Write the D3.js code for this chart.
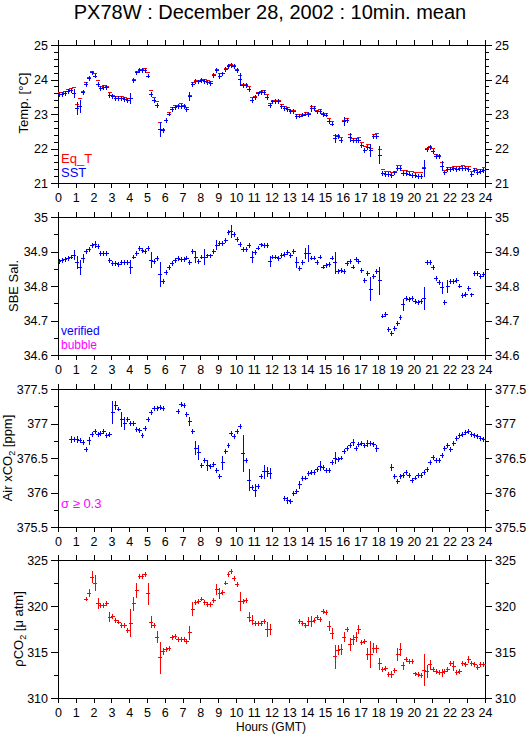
<!DOCTYPE html>
<html>
<head>
<meta charset="utf-8">
<script src="https://cdn.jsdelivr.net/npm/d3@7"></script>
<style>
  body { margin: 0; background: #fff; }
  svg text { font-family: "Liberation Sans", Arial, Helvetica, sans-serif; }
</style>
</head>
<body>
<svg id="chart" width="529" height="739"></svg>
<script>
// 10-minute slots, 144 per day; null = no data
var hourTicks = d3.range(0, 25)

var eqT = [23.62,23.62,23.64,23.70,23.75,23.77,23.28,23.45,23.65,23.90,
  24.06,24.22,24.17,23.96,23.80,23.83,23.81,23.62,23.55,23.52,
  23.50,23.50,23.47,23.45,23.46,24.00,24.22,24.28,24.28,24.33,
  24.20,23.67,23.49,23.36,22.75,22.56,22.82,23.04,23.20,23.24,
  23.26,23.29,23.25,23.18,23.53,23.90,23.98,23.98,23.99,23.99,
  23.96,23.93,24.14,24.28,24.16,24.18,24.32,24.40,24.43,24.40,
  24.30,24.12,23.86,23.86,23.80,23.47,23.50,23.61,23.66,23.67,
  23.57,23.30,23.38,23.39,23.39,23.27,23.23,23.20,23.11,23.11,
  22.99,22.99,23.00,23.03,23.02,23.21,23.21,23.10,23.12,23.02,
  23.02,22.87,22.77,22.37,22.39,22.32,22.82,22.86,22.41,22.28,
  22.29,22.32,22.16,22.05,22.11,22.00,22.40,22.43,21.98,21.39,
  21.33,21.33,21.31,21.33,21.50,21.50,21.36,21.36,21.33,21.32,
  21.29,21.29,21.29,21.44,22.00,22.07,21.99,21.83,21.80,21.60,
  21.36,21.45,21.45,21.48,21.48,21.49,21.50,21.48,21.47,21.33,
  21.41,21.38,21.38,21.44]

var sst = [23.56,23.57,23.60,23.65,23.69,23.60,23.16,23.22,23.63,23.86,
  24.03,24.19,24.10,23.86,23.73,23.77,23.77,23.54,23.51,23.44,
  23.45,23.44,23.42,23.38,23.45,23.98,24.19,24.25,24.25,24.26,
  24.10,23.56,23.40,23.24,22.54,22.52,22.80,23.00,23.14,23.20,
  23.22,23.22,23.22,23.13,23.51,23.86,23.94,23.93,23.96,23.95,
  23.91,23.89,24.12,24.27,24.08,24.16,24.30,24.37,24.41,24.37,
  24.27,24.00,23.82,23.82,23.72,23.40,23.48,23.58,23.62,23.62,
  23.48,23.25,23.35,23.36,23.36,23.22,23.17,23.14,23.08,23.08,
  22.93,22.94,22.97,23.00,22.98,23.15,23.15,23.06,23.07,22.98,
  22.97,22.78,22.71,22.29,22.34,22.24,22.77,22.80,22.32,22.24,
  22.24,22.24,22.08,21.95,22.03,21.93,22.34,22.34,21.80,21.27,
  21.25,21.24,21.22,21.29,21.42,21.42,21.27,21.27,21.26,21.22,
  21.21,21.20,21.20,21.42,21.97,22.02,21.91,21.78,21.76,21.49,
  21.29,21.38,21.38,21.41,21.39,21.42,21.42,21.41,21.40,21.25,
  21.37,21.31,21.33,21.37]
var sstSigma = {5:0.13, 6:0.19, 7:0.2, 24:0.15, 34:0.22, 44:0.14, 61:0.19, 85:0.1,
  93:0.14, 96:0.13, 98:0.12, 105:0.19, 108:0.26, 123:0.25, 129:0.15}

var sal = [34.870,34.875,34.878,34.880,34.884,34.889,34.868,34.853,34.880,34.900,
  34.905,34.918,34.921,34.915,34.894,34.894,34.894,34.875,34.865,34.865,
  34.862,34.867,34.867,34.867,34.855,34.884,34.894,34.908,34.904,34.900,
  34.908,34.875,34.870,34.880,34.834,34.812,34.838,34.853,34.865,34.875,
  34.880,34.877,34.877,34.881,34.868,34.900,34.884,34.870,34.884,34.884,
  34.887,34.887,34.900,34.918,34.923,34.923,34.933,34.955,34.958,34.950,
  34.934,34.921,34.905,34.905,34.918,34.884,34.896,34.910,34.919,34.918,
  34.918,34.870,34.884,34.884,34.880,34.889,34.891,34.897,34.889,34.899,
  34.868,34.851,34.868,34.894,34.894,34.881,34.881,34.868,34.884,34.855,
  34.860,34.862,34.881,34.868,34.841,34.846,34.843,34.865,34.870,34.855,
  34.877,34.870,34.846,34.817,34.836,34.791,34.827,34.843,34.815,34.713,
  34.717,34.674,34.663,34.677,34.692,34.708,34.745,34.764,34.762,34.764,
  34.754,34.751,34.754,34.764,34.867,34.867,34.853,34.822,34.809,34.795,
  34.752,34.798,34.812,34.812,34.815,34.800,34.773,34.776,34.793,34.774,
  34.836,34.836,34.827,34.833]
var salSigma = {5:0.015, 6:0.018, 7:0.022, 8:0.012, 12:0.01, 24:0.02, 31:0.023, 34:0.036,
  46:0.017, 49:0.024, 53:0.015, 58:0.018, 65:0.017, 71:0.016, 80:0.015, 83:0.015,
  84:0.024, 93:0.032, 105:0.035, 108:0.04, 116:0.017, 123:0.034, 129:0.017, 131:0.019}

var xco2 = [null,null,null,null,376.77,376.77,376.77,376.75,376.73,376.63,
  376.75,376.84,376.88,376.84,376.85,376.88,376.82,376.84,377.16,377.26,
  377.21,377.06,377.00,377.06,377.00,377.00,376.91,376.90,376.82,376.93,
  377.06,377.16,377.22,377.22,377.23,377.22,null,null,null,null,
  377.18,377.27,377.26,377.13,377.03,376.88,376.64,376.58,376.39,376.47,
  376.39,376.37,376.41,376.32,376.23,376.43,376.59,376.68,376.85,376.81,
  376.88,376.96,376.56,376.46,376.18,376.07,376.03,376.09,376.23,376.30,
  376.30,376.27,null,null,null,null,375.92,375.88,375.87,375.98,
  376.02,376.11,376.20,376.21,376.28,376.29,376.29,376.34,376.38,376.36,
  376.32,376.32,376.44,376.50,376.48,376.50,376.59,376.64,376.68,376.72,
  376.64,376.70,376.71,376.68,376.71,376.71,376.70,376.64,null,null,
  null,null,376.36,376.23,376.16,376.23,376.25,376.29,376.24,376.18,
  376.21,376.25,376.25,376.29,376.34,376.44,376.51,376.46,376.46,376.54,
  376.64,376.68,376.62,376.71,376.78,376.82,376.84,376.87,376.88,376.84,
  376.83,376.81,376.78,376.77]
var xco2Sigma = {4:0.05, 6:0.055, 10:0.06, 18:0.16, 19:0.07, 21:0.11, 22:0.1, 44:0.07,
  46:0.1, 47:0.11, 50:0.085, 55:0.1, 62:0.27, 64:0.16, 66:0.09, 69:0.1, 70:0.07,
  71:0.08, 77:0.05, 81:0.06, 88:0.07, 93:0.08, 99:0.05, 104:0.055, 107:0.05, 112:0.05}

var pco2 = [null,null,null,null,null,null,null,null,null,320.76,
  321.41,323.15,322.50,320.22,320.04,320.10,320.22,318.80,318.88,318.44,
  318.26,317.86,317.86,317.36,318.15,320.22,321.67,323.22,323.22,323.40,
  321.34,318.26,317.86,316.63,314.35,315.07,315.25,315.43,316.60,316.70,
  316.34,316.34,316.34,316.16,317.07,319.67,320.40,320.50,320.76,320.33,
  320.15,320.15,320.62,321.78,321.41,321.49,322.50,323.40,323.70,323.04,
  322.32,320.50,320.50,320.62,318.80,318.44,318.15,318.15,318.15,318.33,
  317.43,317.43,null,null,null,null,null,null,null,null,
  null,318.33,318.15,317.86,318.33,318.33,318.44,318.80,318.51,319.42,
  319.31,317.79,316.99,314.46,315.18,315.25,316.63,317.43,315.80,316.34,
  316.63,317.43,316.05,316.12,314.78,314.71,315.43,315.33,313.73,313.08,
  313.19,312.54,312.54,312.97,314.71,315.25,313.51,314.17,313.99,313.99,
  312.61,312.54,312.43,313.01,312.90,313.62,313.15,312.90,312.72,312.72,
  312.90,313.15,313.80,313.44,312.72,312.90,313.80,313.62,314.17,313.73,
  313.62,313.33,313.62,313.62]
var pco2Sigma = {10:0.45, 11:0.65, 12:0.85, 13:0.6, 17:0.55, 24:1.5, 25:0.75, 26:0.85,
  30:1.2, 31:0.65, 33:0.6, 34:1.7, 35:0.4, 44:0.8, 45:0.8, 53:0.6, 54:0.6, 61:1.0,
  64:0.5, 65:0.55, 70:0.8, 71:0.6, 84:0.5, 85:0.6, 91:0.55, 92:0.6, 93:1.3, 94:0.55,
  95:0.6, 96:0.5, 98:0.7, 99:0.55, 100:0.55, 101:0.5, 104:0.7, 105:1.5, 106:0.55,
  107:0.45, 108:0.65, 112:0.35, 114:0.7, 115:0.7, 116:0.45, 123:1.75, 124:0.7,
  125:0.55, 129:0.45, 133:0.55, 138:0.4}

var tempTicks = [21, 22, 23, 24, 25]
var salTicks = [34.6, 34.7, 34.8, 34.9, 35]
var xco2Ticks = [375.5, 376, 376.5, 377, 377.5]
var pco2Ticks = [310, 315, 320, 325]

var svg = d3.select('#chart')
var fmt = function(d) { return String(+d.toFixed(2)) }

var x = d3.scaleLinear().domain([0, 24]).range([58, 485])
var slot = 1 / 6
var ph = 138

svg.append('text')
    .attr('x', 270).attr('y', 19)
    .attr('text-anchor', 'middle')
    .attr('font-size', 20)
    .text('PX78W : December 28, 2002 : 10min. mean')

var panels = [
  {top: 45, ticks: tempTicks, minor: 0.2, labelX: 28, labelY: 103,
   label: ['Temp. [°C]'],
   series: [{vals: eqT, sig: {}, base: 0, color: '#ff0000', bars: false},
            {vals: sst, sig: sstSigma, base: 0.07, color: '#0000ff', bars: true}],
   legend: [['Eq_T', '#ff0000'], ['SST', '#0000ff']], legendY: 163, legendGap: 14, legendSize: 13},
  {top: 217, ticks: salTicks, minor: 0.05, labelX: 17.5,
   label: ['SBE Sal.'],
   series: [{vals: sal, sig: salSigma, base: 0.007, color: '#0000ff', bars: true}],
   legend: [['verified', '#0000ff'], ['bubble', '#ff00ff']], legendY: 335, legendGap: 14, legendSize: 12},
  {top: 389, ticks: xco2Ticks, minor: 0.25, labelX: 12,
   label: ['Air xCO', '2', ' [ppm]'],
   series: [{vals: xco2, sig: xco2Sigma, base: 0.036, color: '#0000ff', bars: true}],
   legend: [['σ ≥ 0.3', '#ff00ff']], legendY: 508, legendGap: 0, legendSize: 13},
  {top: 560, ticks: pco2Ticks, minor: 2.5, labelX: 23,
   label: ['ρCO', '2', ' [μ atm]'],
   series: [{vals: pco2, sig: pco2Sigma, base: 0.27, color: '#ff0000', bars: true}],
   legend: []}
]

panels.forEach(function(p) {
    var lo = p.ticks[0], hi = p.ticks[p.ticks.length - 1]
    var y = d3.scaleLinear().domain([lo, hi]).range([p.top + ph, p.top])
    var minors = d3.range(lo, hi + 1e-9, p.minor).map(function(d) { return +d.toFixed(3) })

    var g = svg.append('g')

    // minor ticks
    g.append('g').attr('transform', 'translate(58,0)')
        .call(d3.axisLeft(y).tickValues(minors).tickSize(4).tickFormat(''))
    g.append('g').attr('transform', 'translate(485,0)')
        .call(d3.axisRight(y).tickValues(minors).tickSize(4).tickFormat(''))
    // major ticks + labels
    g.append('g').attr('transform', 'translate(58,0)')
        .call(d3.axisLeft(y).tickValues(p.ticks).tickSizeInner(7).tickSizeOuter(0)
              .tickPadding(3).tickFormat(fmt))
    g.append('g').attr('transform', 'translate(485,0)')
        .call(d3.axisRight(y).tickValues(p.ticks).tickSizeInner(7).tickSizeOuter(0)
              .tickPadding(3).tickFormat(fmt))
    g.append('g').attr('transform', 'translate(0,' + p.top + ')')
        .call(d3.axisTop(x).tickValues(hourTicks).tickSizeInner(5).tickSizeOuter(0).tickFormat(''))
    g.append('g').attr('transform', 'translate(0,' + (p.top + ph) + ')')
        .call(d3.axisBottom(x).tickValues(hourTicks).tickSizeInner(5).tickSizeOuter(0)
              .tickPadding(5).tickFormat(d3.format('d')))

    g.selectAll('.tick text').attr('font-size', 12.5).attr('fill', '#000')
        .style('font-family', '"Liberation Sans", Arial, sans-serif')
    g.selectAll('path, line').attr('stroke', '#000').attr('shape-rendering', 'crispEdges')

    g.append('rect')
        .attr('x', 58).attr('y', p.top).attr('width', 427).attr('height', ph)
        .attr('fill', 'none').attr('stroke', '#000').attr('shape-rendering', 'crispEdges')

    // y label
    var lt = svg.append('text')
        .attr('transform', 'translate(' + p.labelX + ',' + (p.labelY || (p.top + ph / 2)) + ') rotate(-90)')
        .attr('text-anchor', 'middle')
        .attr('font-size', 13)
    lt.append('tspan').text(p.label[0])
    if (p.label.length > 1) {
        lt.append('tspan').attr('font-size', 9).attr('dy', 3).text(p.label[1])
        lt.append('tspan').attr('dy', -3).text(p.label[2])
    }

    // data: 10-min bar + sigma bar
    p.series.forEach(function(s) {
        var pts = []
        s.vals.forEach(function(v, i) {
            if (v != null) pts.push({i: i, v: v, s: s.sig[i] != null ? s.sig[i] : s.base})
        })
        var dg = svg.append('g').attr('stroke', s.color).attr('shape-rendering', 'crispEdges')
        dg.selectAll('.h').data(pts).enter().append('line')
            .attr('x1', function(d) { return x(d.i * slot) - 0.5 })
            .attr('x2', function(d) { return x((d.i + 1) * slot) + 0.5 })
            .attr('y1', function(d) { return y(d.v) })
            .attr('y2', function(d) { return y(d.v) })
        if (s.bars) {
            dg.selectAll('.v').data(pts).enter().append('line')
                .attr('x1', function(d) { return x((d.i + 0.5) * slot) })
                .attr('x2', function(d) { return x((d.i + 0.5) * slot) })
                .attr('y1', function(d) { return y(d.v - d.s) })
                .attr('y2', function(d) { return y(d.v + d.s) })
        }
    })

    // legend
    p.legend.forEach(function(l, k) {
        svg.append('text')
            .attr('x', 61)
            .attr('y', p.legendY + k * p.legendGap)
            .attr('font-size', p.legendSize)
            .attr('fill', l[1])
            .text(l[0])
    })
})

svg.append('text')
    .attr('x', 271).attr('y', 731)
    .attr('text-anchor', 'middle')
    .attr('font-size', 12)
    .text('Hours (GMT)')
</script>
</body>
</html>
